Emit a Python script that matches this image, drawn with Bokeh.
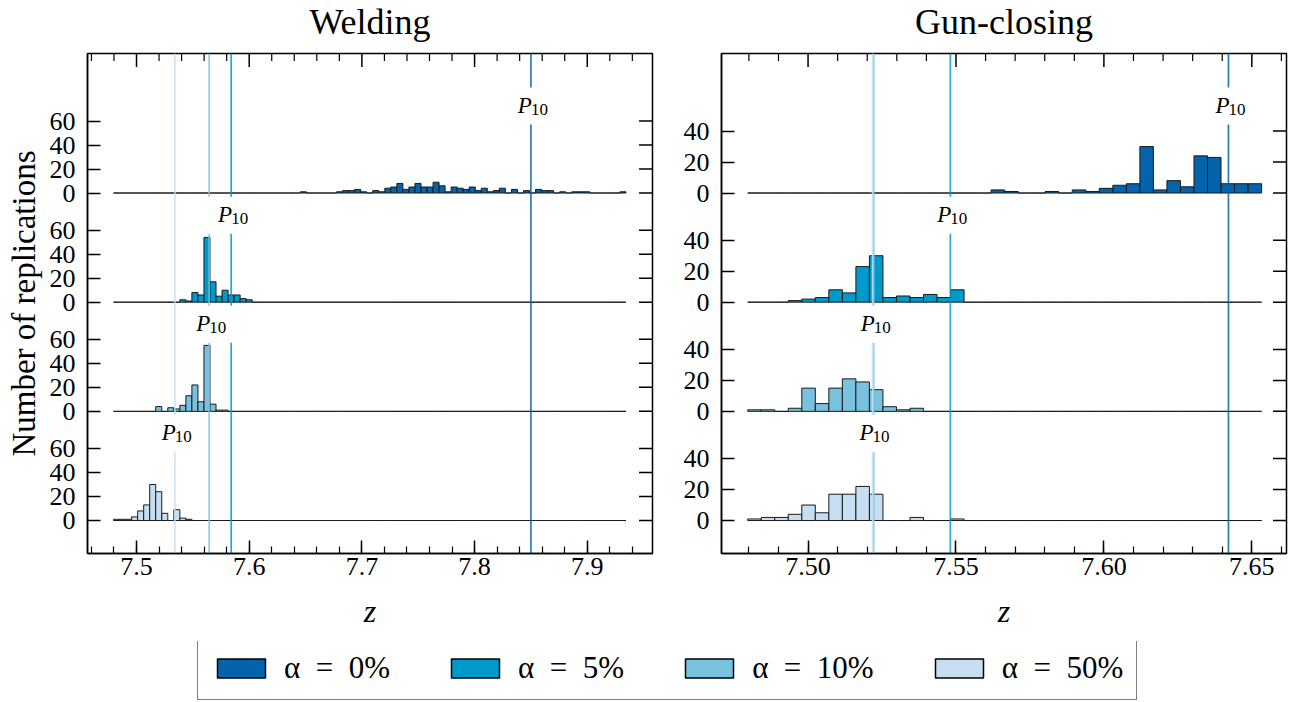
import numpy as np
from bokeh.plotting import figure
from bokeh.models import (FixedTicker, SingleIntervalTicker, Range1d, ColumnDataSource,
                          Legend, LegendItem, PrintfTickFormatter)
from bokeh.layouts import column, row
from bokeh.embed import file_html
from bokeh.resources import INLINE
from bokeh.core.properties import value

# ---------------- data ----------------
panel_titles = ["Welding", "Gun-closing"]
alpha_labels = ["\u03b1\u2002=\u20020%", "\u03b1\u2002=\u20025%",
                "\u03b1\u2002=\u200210%", "\u03b1\u2002=\u200250%"]
bar_colors = ["#0563AC", "#0099CC", "#79C2DF", "#C7DEF1"]

# Welding: common histogram bins
weld_bin_start = 7.4796
weld_bin_width = 0.00535
weld_n_bins = 85
weld_first_a0 = 31
weld_counts_a0 = [1, 0, 0, 0, 0, 0, 1, 2, 2, 3, 1, 0, 2, 1, 4, 5, 8, 3, 5, 8, 5, 5, 9, 6,
                  1, 5, 4, 3, 5, 2, 4, 1, 2, 4, 0, 3, 0, 2, 0, 3, 2, 2, 0, 1, 0, 1, 1, 1,
                  0, 0, 0, 0, 0, 1]
weld_first_a5 = 11
weld_counts_a5 = [2, 1, 8, 6, 54, 17, 5, 10, 6, 6, 3, 2]
weld_first_a10 = 7
weld_counts_a10 = [4, 0, 3, 2, 5, 13, 22, 8, 55, 6, 1, 1]
weld_first_a50 = 0
weld_counts_a50 = [1, 1, 1, 3, 8, 13, 30, 24, 6, 0, 9, 2, 1]
weld_p10 = [7.850, 7.584, 7.5645, 7.534]

# Gun-closing: common histogram bins
gun_bin_start = 7.4796
gun_bin_width = 0.004571
gun_n_bins = 38
gun_first_a0 = 18
gun_counts_a0 = [2, 1, 0, 0, 1, 0, 2, 1, 3, 5, 6, 30, 2, 8, 4, 24, 23, 6, 6, 6]
gun_first_a5 = 3
gun_counts_a5 = [1, 2, 3, 8, 6, 23, 30, 3, 4, 3, 5, 3, 8]
gun_first_a10 = 0
gun_counts_a10 = [1, 1, 0, 2, 15, 5, 15, 21, 19, 14, 3, 1, 2]
gun_first_a50 = 0
gun_counts_a50 = [1, 2, 2, 4, 10, 5, 17, 17, 22, 17, 0, 0, 2, 0, 0, 1]
gun_p10 = [7.6421, 7.5481, 7.5222, 7.5218]

weld_yticks = [0, 20, 40, 60]
gun_yticks = [0, 20, 40]

FONT = "Liberation Serif"
FRAME_W, FRAME_H = 565.0, 500.0
TOP_GAP = 3


def full_counts(n_bins, first, counts):
    arr = np.zeros(n_bins)
    arr[first:first + len(counts)] = counts
    return arr


def hist_edges(bin_start, bin_width, n_bins):
    left = bin_start + np.arange(n_bins) * bin_width
    return left, left + bin_width


def style_axis(ax):
    ax.axis_line_color = "black"
    ax.axis_line_width = 1.5
    ax.major_tick_in = 13
    ax.major_tick_out = 0
    ax.minor_tick_in = 7
    ax.minor_tick_out = 0
    ax.major_tick_line_width = 1.5
    ax.minor_tick_line_width = 1.2
    ax.major_tick_line_color = "black"
    ax.minor_tick_line_color = "black"
    ax.major_label_text_font = FONT
    ax.major_label_text_color = "black"
    ax.major_label_text_font_size = "26px"


def make_panel(bin_start, bin_width, n_bins, firsts, counts_list, p10s,
               yticks, row_step, y_rng, x_rng, interval, fmt, width, bl, br, ylabel):
    ppu = FRAME_H / (y_rng[1] - y_rng[0])
    ppx = FRAME_W / (x_rng[1] - x_rng[0])
    p = figure(width=width, height=int(FRAME_H) + TOP_GAP + 88,
               x_range=Range1d(*x_rng), y_range=Range1d(*y_rng),
               output_backend="svg", toolbar_location=None,
               min_border_left=bl, min_border_right=br, min_border_top=TOP_GAP,
               min_border_bottom=88)
    p.background_fill_color = "white"
    p.border_fill_color = "white"
    p.xgrid.visible = False
    p.ygrid.visible = False
    p.outline_line_color = "black"
    p.outline_line_width = 1.5

    edges_left, edges_right = hist_edges(bin_start, bin_width, n_bins)

    tick_vals, overrides = [], {}
    for i in range(4):
        base = (3 - i) * row_step
        for t in yticks:
            tick_vals.append(float(base + t))
            overrides[float(base + t)] = str(t)
    # histograms
    for i in range(4):
        base = (3 - i) * row_step
        c = full_counts(n_bins, firsts[i], counts_list[i])
        p.quad(left=edges_left, right=edges_right, bottom=np.full(n_bins, base),
               top=base + c, fill_color=bar_colors[i], line_color="#1a1a1a",
               line_width=1)

    # P10 lines together with the mirrored tick marks of the top and right spines
    # (every segment is written from its lower/left end to its upper/right end)
    x0, x1, y0, y1, col, alp, lw = [], [], [], [], [], [], []
    for i in range(4):
        x0.append(p10s[i]); x1.append(p10s[i]); y0.append(y_rng[0]); y1.append(y_rng[1])
        col.append(bar_colors[i]); alp.append(0.85); lw.append(1.7)
    major_x = np.round(np.arange(np.ceil(x_rng[0] / interval) * interval, x_rng[1], interval), 4)
    minor_step = interval / 5
    minor_all = np.round(np.arange(np.ceil(x_rng[0] / minor_step) * minor_step, x_rng[1], minor_step), 4)
    minor_x = [float(m) for m in minor_all if np.min(np.abs(major_x - m)) > minor_step / 2]
    major_x = [float(m) for m in major_x]
    ytop = y_rng[1] - 0.5 / ppu
    xr = x_rng[1] - 0.5 / ppx
    for m in major_x:
        x0.append(m); x1.append(m); y0.append(ytop - 13 / ppu); y1.append(ytop)
        col.append("#000000"); alp.append(1.0); lw.append(1.5)
    for m in minor_x:
        x0.append(m); x1.append(m); y0.append(ytop - 7 / ppu); y1.append(ytop)
        col.append("#000000"); alp.append(1.0); lw.append(1.2)
    for tv in tick_vals:
        x0.append(xr - 13 / ppx); x1.append(xr); y0.append(tv); y1.append(tv)
        col.append("#000000"); alp.append(1.0); lw.append(1.5)
    seg_src = ColumnDataSource(dict(x0=x0, x1=x1, y0=y0, y1=y1, col=col, alp=alp, lw=lw))
    p.segment(x0="x0", x1="x1", y0="y0", y1="y1", source=seg_src,
              line_color="col", line_alpha="alp", line_width="lw")

    # labels
    for i in range(4):
        base = (3 - i) * row_step
        p.rect(x=[p10s[i]], y=[base + 87 / ppu], width=50, height=37,
               width_units="screen", height_units="screen",
               fill_color="white", line_color=None)
        p.text(x=[p10s[i]], y=[base + 88 / ppu], text=["P"], text_align="right",
               text_baseline="middle", text_font=value(FONT),
               text_font_style="italic", text_font_size="23px", text_color="black",
               x_offset=1)
        p.text(x=[p10s[i]], y=[base + 84 / ppu], text=["10"], text_align="left",
               text_baseline="middle", text_font=value(FONT),
               text_font_size="17px", text_color="black", x_offset=0)

    xa = p.xaxis[0]
    xa.ticker = SingleIntervalTicker(interval=interval, num_minor_ticks=5)
    xa.formatter = PrintfTickFormatter(format=fmt)
    style_axis(xa)
    xa.major_label_standoff = 4
    xa.axis_label = "z"
    xa.axis_label_text_font = FONT
    xa.axis_label_text_font_style = "italic"
    xa.axis_label_text_font_size = "32px"
    xa.axis_label_text_color = "black"
    xa.axis_label_standoff = 15

    ya = p.yaxis[0]
    ya.ticker = FixedTicker(ticks=list(tick_vals))
    ya.major_label_overrides = overrides
    style_axis(ya)
    ya.minor_tick_in = 0
    ya.major_label_standoff = 12
    if ylabel:
        ya.axis_label = ylabel
        ya.axis_label_text_font = FONT
        ya.axis_label_text_font_style = "normal"
        ya.axis_label_text_font_size = "33px"
        ya.axis_label_text_color = "black"
        ya.axis_label_standoff = 5
    return p


def make_title(text, width, bl):
    h = 53 - TOP_GAP
    t = figure(width=width, height=h, output_backend="svg", toolbar_location=None,
               x_axis_location=None, y_axis_location=None, min_border=0,
               x_range=Range1d(0, width), y_range=Range1d(0, h))
    t.xgrid.visible = False
    t.ygrid.visible = False
    t.outline_line_color = None
    t.text(x=[bl + FRAME_W / 2], y=[h - 21], text=[text], text_align="center",
           text_baseline="middle", text_font=value(FONT), text_font_size="36px",
           text_color="black")
    return t


p1 = make_panel(weld_bin_start, weld_bin_width, weld_n_bins,
                [weld_first_a0, weld_first_a5, weld_first_a10, weld_first_a50],
                [weld_counts_a0, weld_counts_a5, weld_counts_a10, weld_counts_a50],
                weld_p10, weld_yticks, 91, (-27.5, 389.3), (7.4565, 7.9579),
                0.1, "%.1f", 660, 87, 8, "Number of replications")
p2 = make_panel(gun_bin_start, gun_bin_width, gun_n_bins,
                [gun_first_a0, gun_first_a5, gun_first_a10, gun_first_a50],
                [gun_counts_a0, gun_counts_a5, gun_counts_a10, gun_counts_a50],
                gun_p10, gun_yticks, 70.5, (-21.3, 301.6), (7.47074, 7.66172),
                0.05, "%.2f", 633, 61, 7, None)
t1 = make_title(panel_titles[0], 660, 87)
t2 = make_title(panel_titles[1], 633, 61)

# legend figure: swatches come from the welding histograms (kept outside the view)
pl = figure(width=1293, height=61, output_backend="svg", toolbar_location=None,
            x_axis_location=None, y_axis_location=None, min_border=0,
            x_range=Range1d(0, 1), y_range=Range1d(0, 1))
pl.xgrid.visible = False
pl.ygrid.visible = False
pl.outline_line_color = None
wl, wr = hist_edges(weld_bin_start, weld_bin_width, weld_n_bins)
leg_firsts = [weld_first_a0, weld_first_a5, weld_first_a10, weld_first_a50]
leg_counts = [weld_counts_a0, weld_counts_a5, weld_counts_a10, weld_counts_a50]
items = []
for i in range(4):
    c = full_counts(weld_n_bins, leg_firsts[i], leg_counts[i])
    r = pl.quad(left=wl, right=wr, bottom=np.zeros(weld_n_bins), top=c,
                fill_color=bar_colors[i], line_color="black", line_width=1.5)
    items.append(LegendItem(label=alpha_labels[i], renderers=[r]))
legend = Legend(items=items, orientation="horizontal", location=(197, 2),
                glyph_width=60, glyph_height=24, label_height=29, padding=13,
                spacing=55, label_standoff=13, margin=0,
                label_text_font=FONT, label_text_font_size="31px",
                label_text_color="black", border_line_color="black",
                border_line_width=1.2, background_fill_color="white",
                background_fill_alpha=1)
pl.add_layout(legend)

layout = column(row(t1, t2), row(p1, p2), pl)
open("out.html", "w").write(file_html(layout, INLINE))
